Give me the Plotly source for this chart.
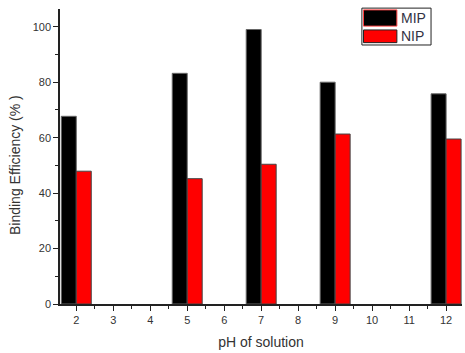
import plotly.graph_objects as go

ph = [2, 5, 7, 9, 12]
mip = [67.7, 83.2, 99.0, 80.0, 75.8]
nip = [47.9, 45.2, 50.4, 61.3, 59.5]
x_ticks = [2, 3, 4, 5, 6, 7, 8, 9, 10, 11, 12]
y_ticks = [0, 20, 40, 60, 80, 100]

FONT = "Liberation Sans, Arial, sans-serif"
BW = 0.405

fig = go.Figure()
fig.add_bar(x=ph, y=mip, name="MIP", width=BW, offset=-BW,
            marker=dict(color="black", line=dict(color="#666", width=1)))
fig.add_bar(x=ph, y=nip, name="NIP", width=BW, offset=0,
            marker=dict(color="#ff0000", line=dict(color="#444", width=1)))

fig.update_layout(
    width=465, height=353,
    margin=dict(l=60, r=3, t=9, b=49),
    paper_bgcolor="white", plot_bgcolor="white",
    barmode="overlay",
    showlegend=False,
    font=dict(family=FONT, color="#333"),
)
fig.update_xaxes(
    range=[1.56, 12.43], tickvals=x_ticks, ticktext=[str(v) for v in x_ticks],
    showline=True, linecolor="#222", linewidth=1.5, showgrid=False, zeroline=False,
    ticks="outside", ticklen=5, tickcolor="#222", tickfont=dict(size=11, color="#333"),
    minor=dict(ticks="outside", ticklen=3, tickcolor="#222", dtick=0.5, tick0=2.5),
    title=dict(text="pH of solution", font=dict(size=14, color="#333"), standoff=12),
)
fig.update_yaxes(
    range=[0, 106.4], tickvals=y_ticks,
    showline=True, linecolor="#222", linewidth=1.5, showgrid=False, zeroline=False,
    ticks="outside", ticklen=5, tickcolor="#222", tickfont=dict(size=11, color="#333"),
    minor=dict(ticks="outside", ticklen=3, tickcolor="#222", dtick=10, tick0=10),
)

# y title
fig.add_annotation(text="Binding Efficiency (% )", xref="paper", yref="paper",
                   x=-0.112, y=0.471, xanchor="center", yanchor="middle",
                   textangle=-90, showarrow=False,
                   font=dict(size=14, color="#333", family=FONT))

# custom legend
fig.add_shape(type="rect", xref="paper", yref="paper", x0=0.751, x1=0.923, y0=0.878, y1=1.003,
              line=dict(color="#222", width=1), fillcolor="white")
fig.add_shape(type="rect", xref="paper", yref="paper", x0=0.755, x1=0.838, y0=0.942, y1=0.997,
              line=dict(color="#ff4040", width=1), fillcolor="black")
fig.add_shape(type="rect", xref="paper", yref="paper", x0=0.755, x1=0.838, y0=0.886, y1=0.929,
              line=dict(color="#222", width=1), fillcolor="#ff0000")
fig.add_annotation(text="MIP", xref="paper", yref="paper", x=0.843, y=0.969,
                   xanchor="left", yanchor="middle",
                   showarrow=False, font=dict(size=14, color="#334", family=FONT))
fig.add_annotation(text="NIP", xref="paper", yref="paper", x=0.843, y=0.908,
                   xanchor="left", yanchor="middle",
                   showarrow=False, font=dict(size=14, color="#334", family=FONT))

fig.write_html("out.html")
